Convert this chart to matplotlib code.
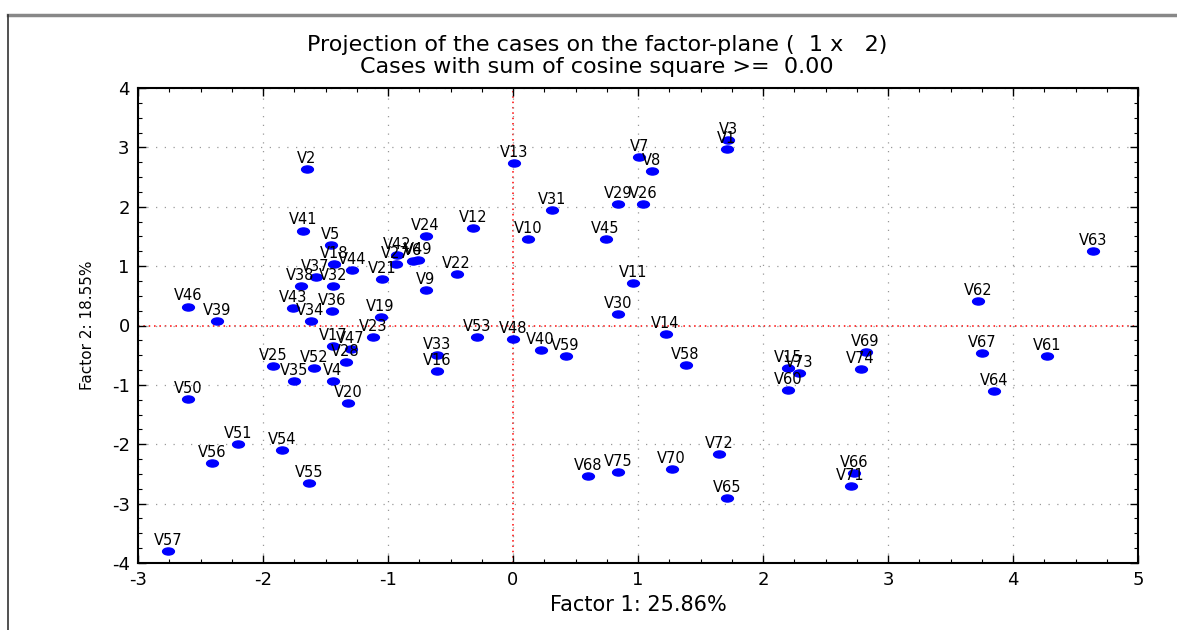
import numpy as np
import matplotlib
matplotlib.use("Agg")
import matplotlib.pyplot as plt
from matplotlib.path import Path
from matplotlib.lines import Line2D
from matplotlib.ticker import MultipleLocator

plt.rcParams['font.family'] = ['DejaVu Sans']
plt.rcParams['axes.unicode_minus'] = False

# case labels and factor scores
labels = ['V2', 'V41', 'V5', 'V18', 'V44', 'V37', 'V38', 'V32', 'V46', 'V39',
          'V43', 'V34', 'V36', 'V19', 'V21', 'V23', 'V17', 'V47', 'V28', 'V25',
          'V52', 'V35', 'V4', 'V20', 'V50', 'V51', 'V56', 'V54', 'V55', 'V57',
          'V13', 'V31', 'V12', 'V24', 'V10', 'V45', 'V42', 'V27', 'V6', 'V49',
          'V22', 'V9', 'V11', 'V30', 'V53', 'V48', 'V40', 'V59', 'V33', 'V16',
          'V68', 'V75', 'V7', 'V8', 'V3', 'V1', 'V29', 'V26', 'V14', 'V58',
          'V70', 'V72', 'V65', 'V63', 'V62', 'V69', 'V74', 'V67', 'V61', 'V64',
          'V15', 'V73', 'V60', 'V66', 'V71']
factor1 = [-1.65, -1.68, -1.46, -1.43, -1.29, -1.58, -1.70, -1.44, -2.60, -2.37,
           -1.76, -1.62, -1.45, -1.06, -1.05, -1.12, -1.44, -1.30, -1.34, -1.92,
           -1.59, -1.75, -1.44, -1.32, -2.60, -2.20, -2.41, -1.85, -1.63, -2.76,
           0.01, 0.31, -0.32, -0.70, 0.12, 0.74, -0.93, -0.94, -0.80, -0.76,
           -0.45, -0.70, 0.96, 0.84, -0.29, 0.00, 0.22, 0.42, -0.61, -0.61,
           0.60, 0.84, 1.01, 1.11, 1.72, 1.71, 0.84, 1.04, 1.22, 1.38,
           1.27, 1.65, 1.71, 4.64, 3.72, 2.82, 2.78, 3.75, 4.27, 3.85,
           2.20, 2.29, 2.20, 2.73, 2.70]
factor2 = [2.64, 1.60, 1.35, 1.04, 0.93, 0.82, 0.66, 0.67, 0.32, 0.07,
           0.30, 0.08, 0.25, 0.15, 0.79, -0.20, -0.34, -0.39, -0.62, -0.69,
           -0.71, -0.94, -0.93, -1.30, -1.23, -1.99, -2.31, -2.09, -2.66, -3.79,
           2.74, 1.94, 1.65, 1.50, 1.45, 1.46, 1.18, 1.03, 1.08, 1.11,
           0.86, 0.59, 0.71, 0.20, -0.19, -0.22, -0.41, -0.52, -0.49, -0.77,
           -2.53, -2.46, 2.83, 2.61, 3.12, 2.98, 2.05, 2.05, -0.15, -0.67,
           -2.41, -2.16, -2.91, 1.25, 0.42, -0.45, -0.74, -0.46, -0.52, -1.11,
           -0.72, -0.80, -1.08, -2.49, -2.71]

fig = plt.figure(figsize=(11.77, 6.3), dpi=100)
ax = fig.add_axes([138/1177, 1-563/630, 1000/1177, 475/630])

# flat blue ellipse marker
circ = Path.unit_circle()
ell = Path(circ.vertices * [1.0, 0.6], circ.codes)

ax.set_xlim(-3, 5)
ax.set_ylim(-4, 4)
ax.xaxis.set_major_locator(MultipleLocator(1))
ax.yaxis.set_major_locator(MultipleLocator(1))
ax.xaxis.set_minor_locator(MultipleLocator(0.25))
ax.yaxis.set_minor_locator(MultipleLocator(0.25))
ax.tick_params(which='both', direction='in', top=True, right=True, colors='black')
ax.tick_params(which='major', length=6, width=1, labelsize=13, pad=6)
ax.tick_params(which='minor', length=3, width=0.8)
ax.grid(True, which='major', color='#999999', linestyle=(0, (1, 6)), linewidth=0.9)
for s in ax.spines.values():
    s.set_linewidth(1.5)

ax.axhline(0, color='red', linestyle=(0, (1, 2.5)), linewidth=1.1, zorder=1)
ax.axvline(0, color='red', linestyle=(0, (1, 2.5)), linewidth=1.1, zorder=1)

ax.plot(factor1, factor2, linestyle='none', marker=ell, markersize=8.5,
        color='#0000ff', zorder=3)
for lab, x, y in zip(labels, factor1, factor2):
    ax.annotate(lab, (x, y), xytext=(0, 3), textcoords='offset pixels',
                ha='center', va='bottom', fontsize=10.5, color='black', zorder=4)

ax.set_xlabel('Factor 1: 25.86%', fontsize=15, labelpad=4)
ax.set_ylabel('Factor 2: 18.55%', fontsize=11, labelpad=12)

fig.text(597/1177, 1-45/630, 'Projection of the cases on the factor-plane (  1 x   2)',
         ha='center', va='center', fontsize=16)
fig.text(597/1177, 1-67/630, 'Cases with sum of cosine square >=  0.00',
         ha='center', va='center', fontsize=16)

# window frame
fig.add_artist(Line2D([8/1177, 1], [1-15/630, 1-15/630], color='#888888', linewidth=2.5))
fig.add_artist(Line2D([8/1177, 8/1177], [0, 1-15/630], color='#333333', linewidth=1.2))

fig.savefig('out.png', dpi=100)
